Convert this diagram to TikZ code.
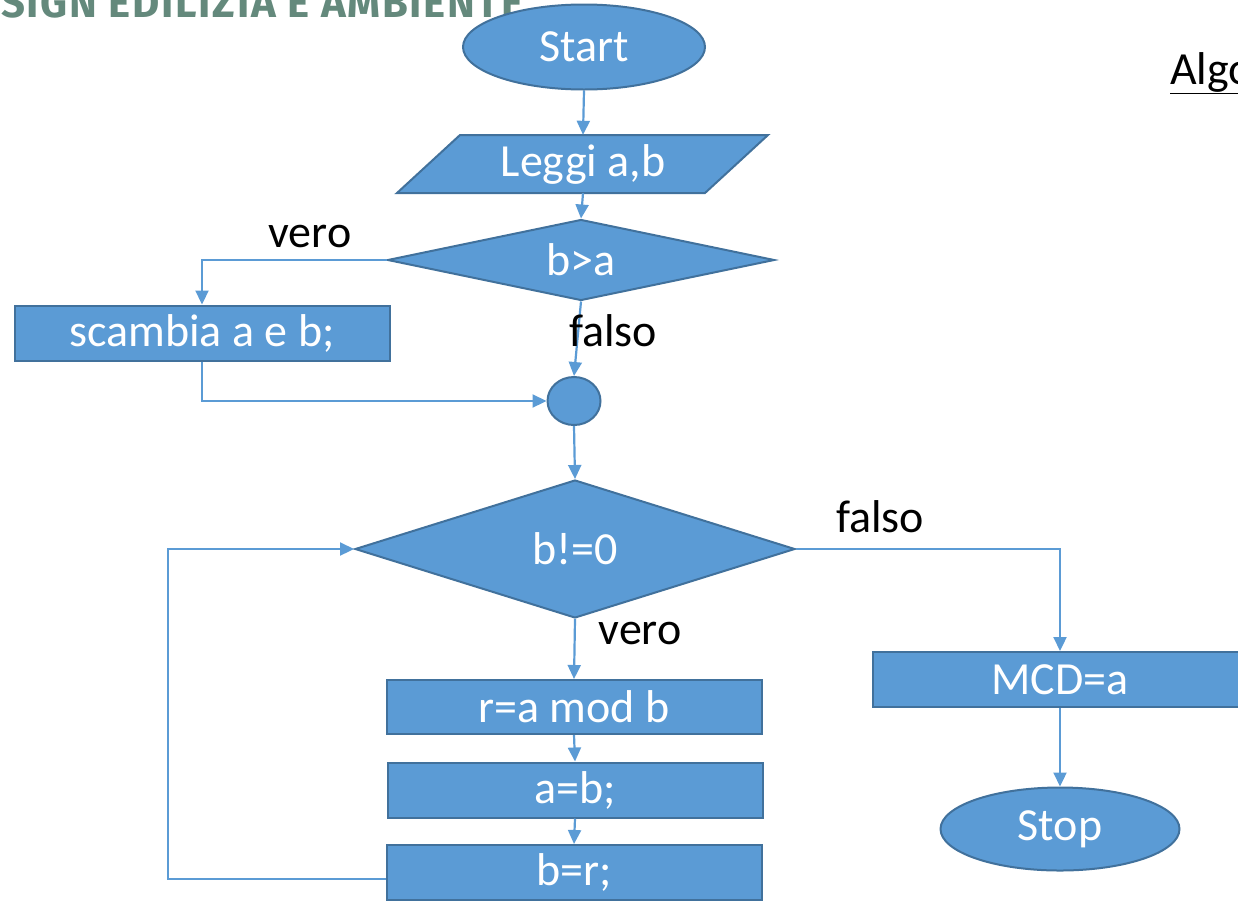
\documentclass[tikz,border=0pt]{standalone}
\usepackage{fontspec}
\setmainfont{Carlito}
\newfontfamily\hdrfont{Fira Sans}[LetterSpace=4]
\usetikzlibrary{shapes.geometric,arrows.meta,calc}
\definecolor{fillblue}{HTML}{5B9BD5}
\definecolor{edgeblue}{HTML}{41719C}
\definecolor{hdrgreen}{RGB}{100,137,124}
\begin{document}
\begin{tikzpicture}[x=1pt,y=-1pt,
  font=\fontsize{46}{55}\selectfont,
  shapebox/.style={draw=edgeblue, fill=fillblue, line width=2pt, text=white, inner sep=0pt},
  procbox/.style={shapebox, rectangle, minimum width=375pt, minimum height=55pt},
  term/.style={shapebox, ellipse, minimum width=242pt, minimum height=85pt},
  decision/.style={shapebox, diamond},
  conn/.style={draw=fillblue, line width=2.2pt, -{Triangle[length=14pt,width=13pt]}},
  lbl/.style={text=black, inner sep=0pt}]
\useasboundingbox (0,0) rectangle (1238,900);
% header (cut by page edge)
\node[anchor=base west, inner sep=0pt, text=hdrgreen] (hdr) at (1,17)
  {\resizebox{522pt}{!}{\hdrfont\bfseries SIGN EDILIZIA E AMBIENTE}};
\node[anchor=base west, inner sep=0pt] (algo) at (1170,84) {\underline{Algo}};

% nodes
\node[term] (start) at (584,47) {Start};
\path[shapebox] (460,135) -- (768,135) -- (705,193) -- (397,193) -- cycle;
\node[inner sep=0pt, minimum width=308pt, minimum height=58pt, text=white] (leggi) at (583,164) {Leggi a,b};
\node[decision, shape aspect=4.78, minimum width=387pt, minimum height=81pt] (c1) at (581,260) {b>a};
\node[procbox] (swap) at (202,333) {scambia a e b;};
\node[shapebox, ellipse, minimum width=53pt, minimum height=48pt] (join) at (574,401) {};
\node[decision, shape aspect=3.19, minimum width=440pt, minimum height=138pt] (c2) at (575,549) {b!=0};
\node[procbox, minimum height=54pt] (r) at (574,707) {r=a mod b};
\node[procbox] (a) at (575,790) {a=b;};
\node[procbox] (brr) at (574,872.5) {b=r;};
\node[procbox, minimum width=374pt] (mcd) at (1060,679.5) {MCD=a};
\node[term, minimum width=239pt, minimum height=83pt] (stop) at (1060,829) {Stop};
\coordinate (loopcorner) at (168,879);

% connectors
\draw[conn] (start.south) -- (leggi.north);
\draw[conn] (leggi.south) -- (c1.north);
\draw[conn] (c1.west) -| (swap.north);
\draw[conn] (swap.south) |- (join.west);
\draw[conn] (c1.south) -- (join.north);
\draw[conn] (join.south) -- (c2.north);
\draw[conn] (c2.east) -| (mcd.north);
\draw[conn] (mcd.south) -- (stop.north);
\draw[conn] (c2.south) -- (r.north);
\draw[conn] (r.south) -- (a.north);
\draw[conn] (a.south) -- (brr.north);
\draw[conn] ($(brr.west)+(0,6.5)$) -- (loopcorner) |- (c2.west);

% labels
\node[lbl] (l1) at (310,236) {vero};
\node[lbl] (l2) at (613,331) {falso};
\node[lbl] (l3) at (880,517) {falso};
\node[lbl] (l4) at (640,633) {vero};
\end{tikzpicture}
\end{document}
